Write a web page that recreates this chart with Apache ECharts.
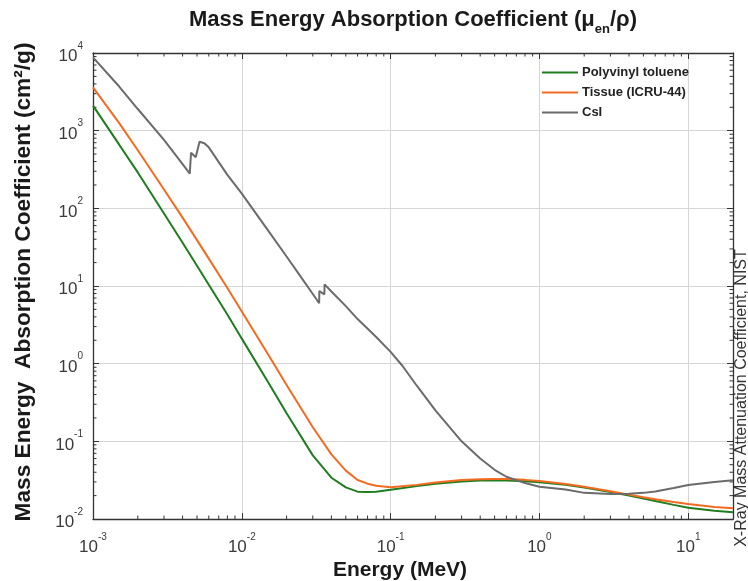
<!DOCTYPE html>
<html><head><meta charset="utf-8">
<script src="https://cdn.jsdelivr.net/npm/echarts@6/dist/echarts.min.js"></script>
<style>html,body{margin:0;padding:0;background:#fff}#c{width:748px;height:581px}</style>
</head><body><div id="c"></div>
<script>
// ---- data (energy in MeV, coefficient in cm^2/g) ----
const seriesNames = ['Polyvinyl toluene', 'Tissue (ICRU-44)', 'CsI'];
const seriesColors = ['#1e7d1e', '#f26b21', '#6b6b6b'];
const energyLowZ = [0.001,0.0015,0.002,0.003,0.004,0.005,0.006,0.008,0.01,0.015,0.02,0.03,0.04,0.05,0.06,0.07,0.08,0.1,0.15,0.2,0.3,0.4,0.5,0.6,0.8,1,1.5,2,3,4,5,6,8,10,15,20];
const pvtValues = [2100,660,290,86,36,18.2,10.4,4.3,2.1,0.58,0.23,0.066,0.034,0.0255,0.0225,0.0222,0.0225,0.0238,0.0265,0.0285,0.0305,0.0312,0.0314,0.0313,0.0307,0.0298,0.0275,0.0255,0.0222,0.0200,0.0183,0.0171,0.0152,0.0140,0.0128,0.0122];
const tissueValues = [3600,1250,560,175,76,39,22.5,9.4,4.7,1.32,0.53,0.152,0.068,0.042,0.0318,0.0285,0.0268,0.0256,0.0275,0.0295,0.0318,0.0326,0.0328,0.0327,0.0319,0.0309,0.0282,0.0260,0.0228,0.0206,0.0191,0.0180,0.0165,0.0156,0.0143,0.0138];
const energyCsI = [0.001,0.0015,0.002,0.003,0.004,0.00447,0.00456,0.0049,0.0052,0.0056,0.006,0.008,0.01,0.015,0.02,0.025,0.03,0.0331,0.0332,0.0359,0.036,0.04,0.05,0.06,0.08,0.1,0.12,0.15,0.2,0.3,0.4,0.5,0.6,0.8,1,1.5,2,3,4,5,6,8,10,15,20];
const csiValues = [8800,3700,1900,760,370,280,520,455,720,690,610,270,155,52,24,13,7.9,6.0,8.6,7.8,10.5,8.5,5.5,3.75,2.2,1.42,0.94,0.52,0.25,0.10,0.060,0.043,0.035,0.029,0.026,0.0240,0.0217,0.0210,0.0211,0.0217,0.0226,0.0250,0.0274,0.0300,0.0315];
const xRange = [0.001, 20];
const yRange = [0.01, 10000];
const minorMultipliers = [2,3,4,5,6,7,8,9];
const titleText = 'Mass Energy Absorption Coefficient (μ';
const xTitle = 'Energy (MeV)';
const yTitle = 'Mass Energy  Absorption Coefficient (cm²/g)';
const sideNote = 'X-Ray Mass Attenuation Coefficient, NIST';

// ---- helpers ----
function pairs(xs, ys) { return xs.map((x, i) => [x, ys[i]]); }
function minorValues(range) {
  const out = [];
  const k0 = Math.floor(Math.log10(range[0])), k1 = Math.ceil(Math.log10(range[1]));
  for (let k = k0; k <= k1; k++) minorMultipliers.forEach(m => {
    const v = m * Math.pow(10, k);
    if (v > range[0] && v < range[1]) out.push(v);
  });
  return out;
}
const FONT = '"Liberation Sans", Arial, Helvetica, sans-serif';
function powLabel(v) {
  const e = Math.round(Math.log10(v));
  if (Math.abs(Math.log10(v) - e) > 1e-6) return '';
  return '{b|10}{e|' + e + '}';
}
const labelRich = {
  b: { fontSize: 17, fontFamily: FONT, color: '#3a3a3a', lineHeight: 24, verticalAlign: 'bottom' },
  e: { fontSize: 10, fontFamily: FONT, color: '#3a3a3a', lineHeight: 24, verticalAlign: 'top' }
};
const axisLineStyle = { color: '#333', width: 1.3 };
function logAxis(range, position, withLabels, grid) {
  return {
    type: 'log', logBase: 10, min: range[0], max: range[1], position: position,
    splitNumber: 5,
    axisLine: { show: true, lineStyle: axisLineStyle },
    axisTick: { show: true, inside: true, length: 6, lineStyle: { color: '#333', width: 1 } },
    axisLabel: { show: withLabels, formatter: powLabel, rich: labelRich, margin: position === 'bottom' ? 13 : 10,
                 showMinLabel: true, showMaxLabel: true },
    splitLine: { show: grid, lineStyle: { color: '#d6d6d6', width: 1 } },
    minorTick: { show: false }, minorSplitLine: { show: false }
  };
}
function minorTickSeries(values, isX) {
  return {
    type: 'custom', coordinateSystem: 'cartesian2d', xAxisIndex: 0, yAxisIndex: 0,
    silent: true, clip: false, z: 1,
    data: values.map(v => isX ? [v, 1] : [1, v]),
    renderItem: function (params, api) {
      const cs = params.coordSys;
      const L = 3.5;
      const style = { stroke: '#333', lineWidth: 1 };
      if (isX) {
        const x = api.coord([api.value(0), 1])[0];
        return { type: 'group', children: [
          { type: 'line', shape: { x1: x, y1: cs.y + cs.height, x2: x, y2: cs.y + cs.height - L }, style },
          { type: 'line', shape: { x1: x, y1: cs.y, x2: x, y2: cs.y + L }, style }
        ]};
      } else {
        const y = api.coord([1, api.value(1)])[1];
        return { type: 'group', children: [
          { type: 'line', shape: { x1: cs.x, y1: y, x2: cs.x + L, y2: y }, style },
          { type: 'line', shape: { x1: cs.x + cs.width, y1: y, x2: cs.x + cs.width - L, y2: y }, style }
        ]};
      }
    }
  };
}
function lineSeries(i, data) {
  return {
    name: seriesNames[i], type: 'line', data: data, xAxisIndex: 0, yAxisIndex: 0,
    showSymbol: false, symbol: 'none', smooth: false, z: 3 + i,
    lineStyle: { color: seriesColors[i], width: 2 }, itemStyle: { color: seriesColors[i] },
    emphasis: { disabled: true }
  };
}

const chart = echarts.init(document.getElementById('c'), null, { renderer: 'canvas' });
chart.setOption({
  animation: false,
  backgroundColor: '#fff',
  grid: { left: 93, right: 15, top: 53, bottom: 62, containLabel: false },
  xAxis: [logAxis(xRange, 'bottom', true, true), logAxis(xRange, 'top', false, false)],
  yAxis: [logAxis(yRange, 'left', true, true), logAxis(yRange, 'right', false, false)],
  legend: {
    data: seriesNames, orient: 'vertical', left: 542, top: 65, padding: 0,
    icon: 'rect', itemWidth: 36, itemHeight: 2, itemGap: 5,
    textStyle: { fontFamily: FONT, fontSize: 13, fontWeight: 'bold', color: '#222', lineHeight: 15, padding: [0, 0, 0, -1] }
  },
  series: [
    lineSeries(0, pairs(energyLowZ, pvtValues)),
    lineSeries(1, pairs(energyLowZ, tissueValues)),
    lineSeries(2, pairs(energyCsI, csiValues)),
    minorTickSeries(minorValues(xRange), true),
    minorTickSeries(minorValues(yRange), false)
  ],
  graphic: [
    { type: 'text', x: 413, y: 20, style: {
        text: '{a|' + titleText + '}{s|en}{a|/ρ)}', textAlign: 'center', textVerticalAlign: 'middle',
        rich: {
          a: { fontSize: 22, fontWeight: 'bold', fontFamily: FONT, fill: '#1a1a1a', lineHeight: 32, verticalAlign: 'middle' },
          s: { fontSize: 13, fontWeight: 'bold', fontFamily: FONT, fill: '#1a1a1a', lineHeight: 32, verticalAlign: 'bottom' }
        } } },
    { type: 'text', x: 400, y: 570, style: {
        text: xTitle, textAlign: 'center', textVerticalAlign: 'middle',
        font: 'bold 21px ' + FONT, fill: '#1a1a1a' } },
    { type: 'text', x: 24, y: 282, rotation: Math.PI / 2, style: {
        text: yTitle, textAlign: 'center', textVerticalAlign: 'middle',
        font: 'bold 22.7px ' + FONT, fill: '#1a1a1a' } },
    { type: 'text', x: 742, y: 398, rotation: Math.PI / 2, style: {
        text: sideNote, textAlign: 'center', textVerticalAlign: 'middle',
        font: '16px ' + FONT, fill: '#333' } }
  ]
});
</script></body></html>
